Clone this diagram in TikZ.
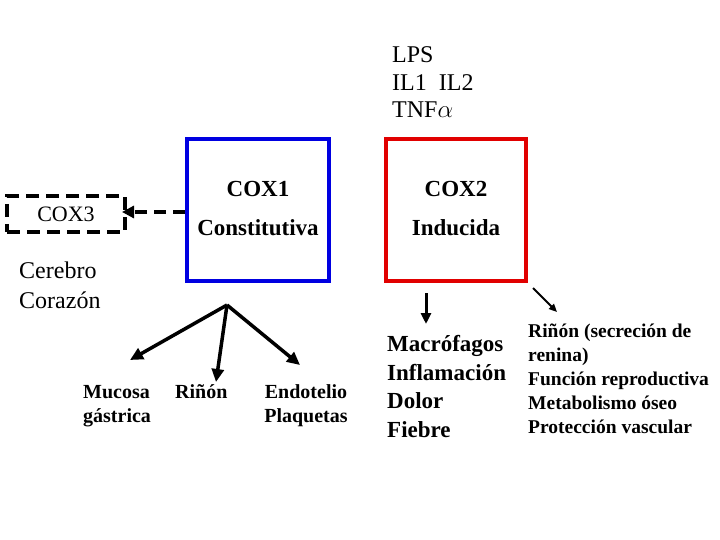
\documentclass[tikz,border=0pt]{standalone}
\usepackage{fontspec}
\setmainfont{Liberation Serif}
\usetikzlibrary{arrows.meta}
\definecolor{coxblue}{RGB}{0,0,225}
\definecolor{coxred}{RGB}{225,0,0}
\begin{document}
\begin{tikzpicture}[x=1pt,y=-1pt,
  coxbox/.style={minimum width=142pt, minimum height=142pt, line width=4pt, align=center,
    font=\fontsize{23}{39}\selectfont\bfseries, inner sep=0},
  plain/.style={inner sep=0, align=left, anchor=base west},
  bigarrow/.style={line width=3.5pt, -{Triangle[length=13pt,width=12pt]}},
  ]
\useasboundingbox[fill=white] (0,0) rectangle (720,540);
% top stimuli
\node[plain, font=\fontsize{24}{27.5}\selectfont] (lps) at (392,118) {LPS\\IL1~~IL2\\TNF$\alpha$};
% boxes
\node[coxbox, draw=coxblue] (cox1) at (258,210) {COX1\\Constitutiva\\[-35pt]\mbox{}};
\node[coxbox, draw=coxred, minimum width=140pt] (cox2) at (456,210) {COX2\\Inducida\\[-35pt]\mbox{}};
\node[draw=black, line width=4pt, dash pattern=on 13pt off 7pt, minimum width=118pt, minimum height=36pt,
  inner sep=0, font=\fontsize{22}{26}\selectfont] (cox3) at (66,214) {COX3};
\draw[line width=4pt, dash pattern=on 12pt off 7pt, -{Triangle[length=12pt,width=12pt]}]
  (cox1.west |- 0,212) -- ([xshift=-5pt]cox3.east |- 0,212);
% Cerebro
\node[plain, font=\fontsize{24}{30}\selectfont] (organs) at (19,308) {Cerebro\\Coraz\'on};
% COX1 targets
\coordinate (fork) at (227,305);
\node[plain, font=\fontsize{20}{24}\selectfont\bfseries] (mucosa) at (83,422) {Mucosa\\g\'astrica};
\node[plain, font=\fontsize{20}{24}\selectfont\bfseries] (rinon) at (175,398) {Riñón};
\node[inner sep=0, align=center, anchor=base, font=\fontsize{20}{24}\selectfont\bfseries] (endo) at (306,422) {Endotelio\\Plaquetas};
\coordinate (tipm) at (130,360);
\coordinate (tipr) at (216,382);
\coordinate (tipe) at (300,365);
\draw[bigarrow] (fork) -- (tipm);
\draw[bigarrow] (fork) -- (tipr);
\draw[bigarrow] (fork) -- (tipe);
% COX2 targets
\node[plain, font=\fontsize{23}{28.5}\selectfont\bfseries] (macro) at (387,437) {Macrófagos\\Inflamación\\Dolor\\Fiebre};
\node[plain, font=\fontsize{19.5}{24}\selectfont\bfseries] (phys) at (528,433) {Riñón (secreción de\\renina)\\Función reproductiva\\Metabolismo óseo\\Protección vascular};
\coordinate (d1) at (426,293);
\coordinate (d2) at (426,324);
\coordinate (s1) at (533,288);
\coordinate (s2) at (557,312);
\draw[line width=3pt, -{Triangle[length=11pt,width=10pt]}] (d1) -- (d2);
\draw[line width=1.8pt, -{Triangle[length=8pt,width=7pt]}] (s1) -- (s2);
\end{tikzpicture}
\end{document}
